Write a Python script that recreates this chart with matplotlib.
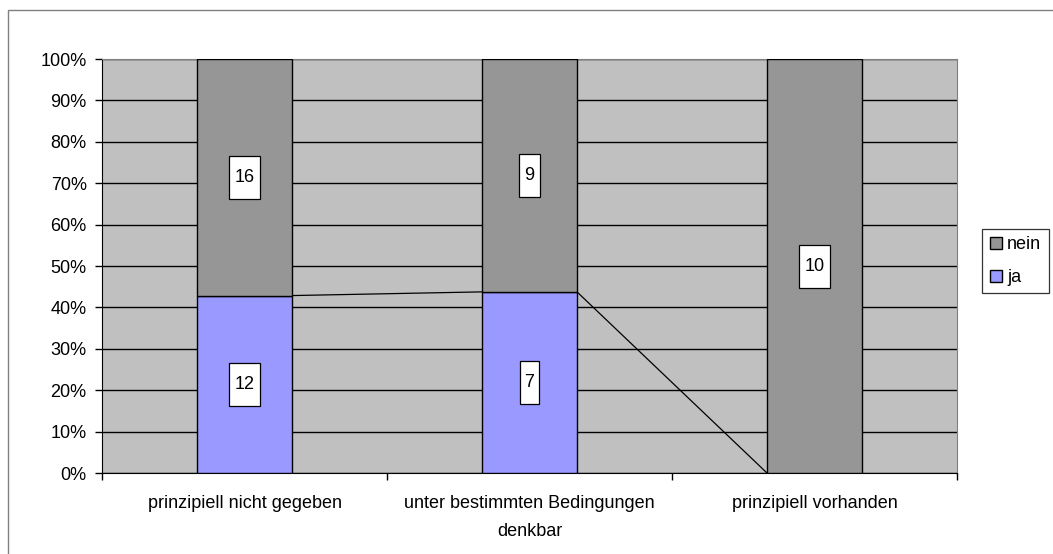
import matplotlib.pyplot as plt
from matplotlib.patches import Rectangle
from matplotlib.path import Path
from matplotlib.lines import Line2D

plt.rcParams['font.family'] = ['Liberation Sans', 'DejaVu Sans']

categories = ['prinzipiell nicht gegeben', 'unter bestimmten Bedingungen\ndenkbar', 'prinzipiell vorhanden']
ja = [12, 7, 0]
nein = [16, 9, 10]

totals = [a + b for a, b in zip(ja, nein)]
ja_pct = [100 * a / t for a, t in zip(ja, totals)]
nein_pct = [100 * b / t for b, t in zip(nein, totals)]

fs = 13


def label_box(x0, y0, width, height, mutation_size):
    # tall white box like excel data labels
    px = 0.28 * mutation_size
    py = 0.72 * mutation_size
    x0, x1 = x0 - px, x0 + width + px
    y0, y1 = y0 - py, y0 + height + py
    return Path([(x0, y0), (x1, y0), (x1, y1), (x0, y1), (x0, y0)], closed=True)


fig = plt.figure(figsize=(10.53, 5.54), dpi=100)
ax = fig.add_axes([102 / 1053, 1 - 473 / 554, 855 / 1053, 414 / 554])
ax.set_facecolor('#C0C0C0')

x = list(range(len(categories)))
w = 1 / 3
ax.bar(x, ja_pct, w, color='#9999FF', edgecolor='black', linewidth=1, zorder=3)
ax.bar(x, nein_pct, w, bottom=ja_pct, color='#969696', edgecolor='black', linewidth=1, zorder=3)

# series lines between the bars
for i in range(len(x) - 1):
    ax.plot([x[i] + w / 2, x[i + 1] - w / 2], [ja_pct[i], ja_pct[i + 1]],
            color='black', linewidth=0.9, zorder=2)

box = dict(boxstyle=label_box, facecolor='white', edgecolor='black', linewidth=0.9)
for i in x:
    if ja[i]:
        ax.text(x[i], ja_pct[i] / 2, str(ja[i]), ha='center', va='center',
                fontsize=fs, bbox=box, zorder=5)
    if nein[i]:
        ax.text(x[i], ja_pct[i] + nein_pct[i] / 2, str(nein[i]), ha='center', va='center',
                fontsize=fs, bbox=box, zorder=5)

ax.set_xlim(-0.5, 2.5)
ax.set_ylim(0, 100)
ax.set_yticks(range(0, 101, 10))
ax.set_yticklabels([f'{v}%' for v in range(0, 101, 10)], fontsize=fs)
ax.yaxis.grid(True, color='black', linewidth=1)
ax.set_axisbelow(True)
ax.tick_params(axis='y', length=5, width=1, direction='out', pad=6)

ax.set_xticks([-0.5, 0.5, 1.5, 2.5])
ax.set_xticklabels([])
ax.tick_params(axis='x', which='major', length=5, width=1, direction='out')
ax.set_xticks(x, minor=True)
ax.set_xticklabels(categories, minor=True, fontsize=fs, linespacing=1.85)
ax.tick_params(axis='x', which='minor', length=0, pad=16)

for s in ['left', 'bottom']:
    ax.spines[s].set_color('black')
for s in ['right', 'top']:
    ax.spines[s].set_color('#808080')

handles = [Line2D([], [], marker='s', linestyle='none', markersize=8,
                  markerfacecolor='#969696', markeredgecolor='black', markeredgewidth=1),
           Line2D([], [], marker='s', linestyle='none', markersize=8,
                  markerfacecolor='#9999FF', markeredgecolor='black', markeredgewidth=1)]
leg = fig.legend(handles, ['nein', 'ja'], loc='center left',
                 bbox_to_anchor=(982 / 1053, 1 - 261 / 554), fontsize=fs,
                 frameon=True, fancybox=False, borderpad=0.4, handletextpad=0.2,
                 handlelength=0.8, borderaxespad=0, labelspacing=0.9)
leg.get_frame().set_edgecolor('black')
leg.get_frame().set_linewidth(0.9)

fig.patches.append(Rectangle((8 / 1053, -0.1), 1.2, 1 - 10 / 554 + 0.1,
                             transform=fig.transFigure, fill=False,
                             edgecolor='#808080', linewidth=1))

fig.savefig('out.png', dpi=100)
